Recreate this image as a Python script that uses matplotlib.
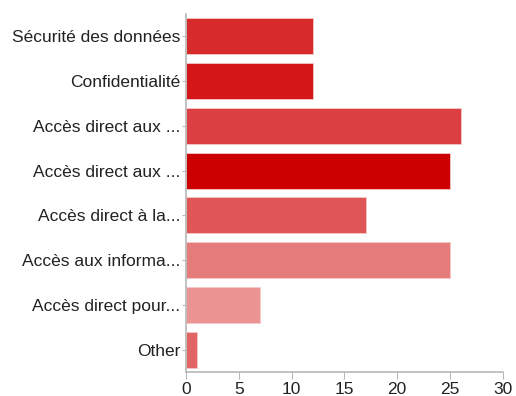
import matplotlib.pyplot as plt
import numpy as np

plt.rcParams["font.family"] = ["Liberation Sans", "DejaVu Sans"]

categories = [
    "Sécurité des données",
    "Confidentialité",
    "Accès direct aux ...",
    "Accès direct aux ...",
    "Accès direct à la...",
    "Accès aux informa...",
    "Accès direct pour...",
    "Other",
]
counts = [12, 12, 26, 25, 17, 25, 7, 1]
bar_colors = ["#d72a2b", "#d41618", "#db3f42", "#cc0000",
              "#e05555", "#e67b7b", "#eb9494", "#e26565"]
x_ticks = [0, 5, 10, 15, 20, 25, 30]

fig = plt.figure(figsize=(5.16, 3.96), dpi=100)
ax = fig.add_axes([0.3605, 0.0606, 0.614, 0.904])

y = np.arange(len(categories))
ax.barh(y, counts, height=0.8, color=bar_colors, edgecolor="#f4c8c8", linewidth=0.6)

ax.set_ylim(len(categories) - 0.5, -0.5)
ax.set_xlim(0, 30)
ax.set_xticks(x_ticks)
ax.set_yticks(y)
ax.set_yticklabels(categories)

for side in ("top", "right"):
    ax.spines[side].set_visible(False)
for side in ("left", "bottom"):
    ax.spines[side].set_color("#b8b8b8")
    ax.spines[side].set_linewidth(1.2)

ax.tick_params(axis="y", length=3, width=0.8, color="#b8b8b8", labelsize=12.5,
               labelcolor="#222222", pad=1)
ax.tick_params(axis="x", length=5, width=0.8, color="#b8b8b8", labelsize=12.5,
               labelcolor="#222222", pad=2)

fig.savefig("out.png", dpi=100)
plt.close(fig)
